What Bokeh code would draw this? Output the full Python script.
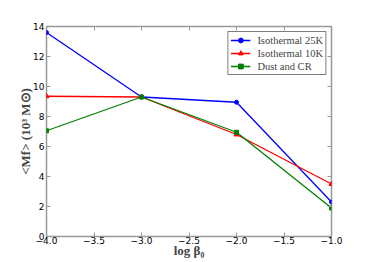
from bokeh.plotting import figure
from bokeh.models import FixedTicker, LinearAxis, Range1d, Legend, LegendItem
from bokeh.embed import file_html
from bokeh.resources import INLINE

log_beta = [-4.0, -3.0, -2.0, -1.0]
iso25 = [13.6, 9.3, 8.95, 2.3]
iso10 = [9.35, 9.3, 6.8, 3.5]
dustcr = [7.05, 9.3, 6.95, 1.9]

x_ticks = [-4.0, -3.5, -3.0, -2.5, -2.0, -1.5, -1.0]
y_ticks = [0, 2, 4, 6, 8, 10, 12, 14]

spine = "#999999"

p = figure(frame_width=285, frame_height=210, output_backend="svg",
           toolbar_location=None, x_range=Range1d(-4, -1), y_range=Range1d(0, 14),
           min_border_left=46, min_border_right=37, min_border_top=26, min_border_bottom=26)
p.grid.visible = False
p.background_fill_color = "white"
p.border_fill_color = "white"
p.outline_line_color = spine
p.outline_line_width = 1.5

def style_axis(ax, labels=True):
    ax.axis_line_color = None
    ax.major_tick_in = 4
    ax.major_tick_out = 0
    ax.major_tick_line_color = spine
    ax.minor_tick_line_color = None
    if labels:
        ax.major_label_text_font = "DejaVu Sans"
        ax.major_label_text_font_size = "9px"
        ax.major_label_text_color = "black"
    else:
        ax.major_label_overrides = {t: "" for t in ax.ticker.ticks}
        ax.major_label_text_font_size = "9px"
        ax.major_label_standoff = 0

p.xaxis.ticker = FixedTicker(ticks=x_ticks)
p.yaxis.ticker = FixedTicker(ticks=y_ticks)
p.xaxis.major_label_overrides = {t: ("%.1f" % t).replace("-", "\u2212") for t in x_ticks}
p.yaxis.major_label_overrides = {t: str(t) for t in y_ticks}
style_axis(p.xaxis[0])
style_axis(p.yaxis[0])
p.xaxis.axis_label = "log \u03b2\u2080"
p.yaxis.axis_label = "<Mf> (10\u00b3 M\u2299)"
for ax in (p.xaxis[0], p.yaxis[0]):
    ax.axis_label_text_font = "Liberation Serif"
    ax.axis_label_text_font_style = "bold"
    ax.axis_label_text_font_size = "13px"
p.xaxis.major_label_standoff = 0
p.xaxis.axis_label_standoff = -4
p.yaxis.major_label_standoff = 2
p.yaxis.axis_label_standoff = -3

top = LinearAxis(ticker=FixedTicker(ticks=x_ticks))
style_axis(top, labels=False)
p.add_layout(top, "above")
right = LinearAxis(ticker=FixedTicker(ticks=y_ticks))
style_axis(right, labels=False)
p.add_layout(right, "right")

l1 = p.line(log_beta, iso25, line_color="#0000ff", line_width=1.3)
m1 = p.scatter(log_beta, iso25, marker="circle", size=4, color="#0000ff")
l2 = p.line(log_beta, iso10, line_color="#ff0000", line_width=1.3)
m2 = p.scatter(log_beta, iso10, marker="triangle", size=5, color="#ff0000")
l3 = p.line(log_beta, dustcr, line_color="#008000", line_width=1.3)
m3 = p.scatter(log_beta, dustcr, marker="square", size=4, color="#008000")

legend = Legend(items=[
    LegendItem(label="Isothermal 25K", renderers=[l1, m1]),
    LegendItem(label="Isothermal 10K", renderers=[l2, m2]),
    LegendItem(label="Dust and CR", renderers=[l3, m3]),
], location="top_right")
legend.margin = 5
legend.padding = 2
legend.spacing = 1
legend.label_height = 12
legend.glyph_height = 12
legend.glyph_width = 20
legend.label_standoff = 7
legend.label_text_font = "Liberation Serif"
legend.label_text_font_size = "10.5px"
legend.border_line_color = "black"
legend.border_line_width = 1
legend.background_fill_alpha = 1.0
p.add_layout(legend)

open("out.html", "w").write(file_html(p, INLINE))
